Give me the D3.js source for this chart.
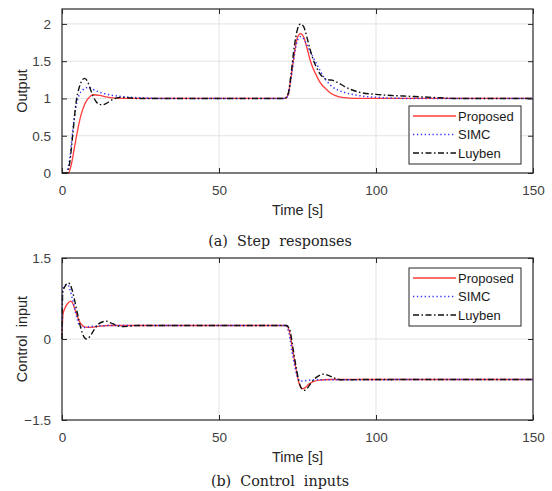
<!DOCTYPE html>
<html>
<head>
<meta charset="utf-8">
<script src="https://cdn.jsdelivr.net/npm/d3@7"></script>
<style>
  body { margin: 0; background: #fff; }
  .tick text { font-family: "Liberation Sans", Arial, sans-serif; font-size: 13.5px; fill: #404040; }
  .axisLabel { font-family: "Liberation Sans", Arial, sans-serif; font-size: 14.5px; fill: #262626; }
  .caption { font-family: "DejaVu Serif", "Liberation Serif", serif; font-size: 14.3px; fill: #222; }
  .legendText { font-family: "Liberation Sans", Arial, sans-serif; font-size: 13px; fill: #1a1a1a; }
</style>
</head>
<body>
<svg width="552" height="491"></svg>
<script>
// series names and legend
var seriesNames = ["Proposed", "SIMC", "Luyben"];

// (a) step responses: [time, output]
var outProposed = [[0,0],[2,0],[3,0.12],[4,0.35],[5,0.58],[6,0.77],[7,0.9],[8,0.98],[9,1.03],[10,1.05],[12,1.04],[14,1.02],[17,1.005],[22,1.0],
  [71,1.0],[72,1.05],[73,1.3],[74,1.6],[75,1.82],[76,1.87],[77,1.82],[78,1.68],[79,1.52],[80,1.4],[81,1.31],[82,1.23],[83,1.17],[84,1.13],[85,1.09],[86,1.06],[88,1.025],[90,1.01],[93,1.0],[150,1.0]];
var outSIMC = [[0,0],[1.3,0],[2.5,0.2],[3.5,0.6],[4.5,0.9],[5.5,1.05],[6.5,1.11],[7.5,1.14],[8.5,1.15],[9.5,1.13],[11,1.1],[13,1.07],[15,1.05],[18,1.03],[22,1.015],[27,1.005],[32,1.0],
  [71,1.0],[72,1.04],[73,1.28],[74,1.58],[75,1.78],[76,1.83],[77,1.8],[78,1.72],[79,1.63],[80,1.55],[81,1.47],[82,1.39],[83,1.31],[84,1.25],[85,1.2],[86,1.16],[88,1.11],[90,1.08],[93,1.05],[96,1.03],[100,1.015],[105,1.005],[110,1.0],[150,1.0]];
var outLuyben = [[0,0],[1.5,0],[2.5,0.15],[3.5,0.55],[4.5,0.95],[5.5,1.15],[6.5,1.25],[7.2,1.27],[8,1.24],[9,1.13],[10,1.02],[11,0.95],[12,0.92],[13,0.915],[14,0.93],[15.5,0.97],[17,1.0],[19,1.015],[21,1.01],[24,1.0],
  [71,1.0],[72,1.06],[73,1.35],[74,1.7],[75,1.93],[76,2.0],[77,1.96],[78,1.82],[79,1.66],[80,1.52],[81,1.42],[82,1.34],[83,1.29],[84,1.26],[85,1.25],[86,1.245],[87,1.23],[88,1.21],[90,1.16],[92,1.12],[95,1.08],[100,1.055],[105,1.04],[110,1.03],[115,1.02],[120,1.01],[125,1.0],[150,1.0]];

// (b) control inputs: [time, u]
var uProposed = [[0,0],[0.3,0.45],[1,0.58],[2,0.67],[2.8,0.7],[3.5,0.65],[4.5,0.48],[5.5,0.33],[6.5,0.25],[7.5,0.22],[8.5,0.215],[10,0.22],[12,0.24],[15,0.25],
  [71.5,0.25],[72.5,0.12],[73.5,-0.22],[74.5,-0.55],[75.5,-0.82],[76.5,-0.92],[77.5,-0.9],[78.5,-0.84],[80,-0.79],[82,-0.76],[85,-0.75],[150,-0.75]];
var uSIMC = [[0,0],[0.2,0.9],[1,1.0],[1.8,1.01],[2.5,0.92],[3.5,0.7],[4.5,0.45],[5.5,0.26],[6.5,0.21],[8,0.22],[10,0.235],[13,0.245],[16,0.25],
  [71.3,0.25],[72.3,0.1],[73.3,-0.25],[74.3,-0.55],[75.3,-0.75],[76,-0.78],[77,-0.775],[79,-0.76],[82,-0.755],[150,-0.75]];
var uLuyben = [[0,0],[0.2,0.85],[1,0.98],[2,1.04],[3,0.95],[4,0.72],[5,0.45],[6,0.2],[7,0.04],[7.8,0.0],[8.8,0.04],[10,0.15],[11.5,0.27],[13,0.32],[14.2,0.33],[15.5,0.3],[17,0.26],[19,0.23],[21,0.235],[24,0.25],
  [71.5,0.25],[72.5,0.18],[73.5,-0.15],[74.5,-0.5],[75.5,-0.8],[76.5,-0.93],[77.3,-0.95],[78.3,-0.9],[79.5,-0.8],[81,-0.71],[82.5,-0.66],[83.5,-0.65],[85,-0.68],[87,-0.73],[89,-0.755],[92,-0.755],[95,-0.75],[150,-0.75]];

// tick values
var xTicks = [0, 50, 100, 150];
var yTicksOut = [0, 0.5, 1, 1.5, 2];
var yTicksU = [-1.5, 0, 1.5];

var styles = [
  {color: "#ff3b3b", dash: null, width: 1.3},
  {color: "#3232ff", dash: "1.3,2.6", width: 1.5},
  {color: "#111111", dash: "6,2.5,1.5,2.5", width: 1.4}
];

var svg = d3.select("svg");

function drawPanel(cfg) {
  var left = 62, right = 533;
  var x = d3.scaleLinear().domain([0, 150]).range([left, right]);
  var y = d3.scaleLinear().domain(cfg.yDomain).range([cfg.bottom, cfg.top]);
  var g = svg.append("g");

  //grid
  g.selectAll(".gx").data(cfg.gridX).enter().append("line")
    .attr("x1", function(d){ return x(d); }).attr("x2", function(d){ return x(d); })
    .attr("y1", cfg.top).attr("y2", cfg.bottom)
    .attr("stroke", "#e3e3e3").attr("stroke-width", 1);
  g.selectAll(".gy").data(cfg.gridY).enter().append("line")
    .attr("x1", left).attr("x2", right)
    .attr("y1", function(d){ return y(d); }).attr("y2", function(d){ return y(d); })
    .attr("stroke", "#e3e3e3").attr("stroke-width", 1);

  //lines
  var line = d3.line()
    .x(function(d){ return x(d[0]); })
    .y(function(d){ return y(d[1]); })
    .curve(d3.curveMonotoneX);
  cfg.series.forEach(function(s, i) {
    g.append("path")
      .datum(s)
      .attr("d", line)
      .attr("fill", "none")
      .attr("stroke", styles[i].color)
      .attr("stroke-width", styles[i].width)
      .attr("stroke-dasharray", styles[i].dash);
  });

  //axes, matlab style with ticks inside on all sides
  var fmt = function(d){ return d3.format("")(d); };
  g.append("g").attr("transform", "translate(0," + cfg.bottom + ")")
    .call(d3.axisBottom(x).tickValues(xTicks).tickSize(-5).tickPadding(12).tickFormat(fmt))
    .call(function(a){ a.select(".domain").remove(); a.selectAll("line").attr("stroke", "#262626"); });
  g.append("g").attr("transform", "translate(0," + cfg.top + ")")
    .call(d3.axisTop(x).tickValues(xTicks).tickSize(-5).tickFormat(""))
    .call(function(a){ a.select(".domain").remove(); a.selectAll("line").attr("stroke", "#262626"); });
  g.append("g").attr("transform", "translate(" + left + ",0)")
    .call(d3.axisLeft(y).tickValues(cfg.yTicks).tickSize(-5).tickPadding(11).tickFormat(fmt))
    .call(function(a){ a.select(".domain").remove(); a.selectAll("line").attr("stroke", "#262626"); });
  g.append("g").attr("transform", "translate(" + right + ",0)")
    .call(d3.axisRight(y).tickValues(cfg.yTicks).tickSize(-5).tickFormat(""))
    .call(function(a){ a.select(".domain").remove(); a.selectAll("line").attr("stroke", "#262626"); });
  g.selectAll(".tick text").attr("fill", null);

  g.append("rect")
    .attr("x", left).attr("y", cfg.top)
    .attr("width", right - left).attr("height", cfg.bottom - cfg.top)
    .attr("fill", "none").attr("stroke", "#262626").attr("stroke-width", 1.2);

  //labels
  g.append("text").attr("class", "axisLabel")
    .attr("x", (left + right) / 2).attr("y", cfg.bottom + 42)
    .attr("text-anchor", "middle").text("Time [s]");
  g.append("text").attr("class", "axisLabel")
    .attr("transform", "translate(27," + ((cfg.top + cfg.bottom) / 2) + ") rotate(-90)")
    .attr("text-anchor", "middle")
    .style("white-space", "pre").text(cfg.yLabel);
  g.append("text").attr("class", "caption")
    .attr("x", 280).attr("y", cfg.captionY)
    .attr("text-anchor", "middle").style("white-space", "pre")
    .text(cfg.caption);

  //legend
  var lg = g.append("g").attr("transform", "translate(409," + cfg.legendTop + ")");
  lg.append("rect").attr("width", 112).attr("height", 58)
    .attr("fill", "#fff").attr("stroke", "#262626").attr("stroke-width", 1);
  seriesNames.forEach(function(name, i) {
    var ry = 10 + i * 18.5;
    lg.append("line")
      .attr("x1", 4).attr("x2", 47).attr("y1", ry).attr("y2", ry)
      .attr("stroke", styles[i].color).attr("stroke-width", styles[i].width)
      .attr("stroke-dasharray", styles[i].dash);
    lg.append("text").attr("class", "legendText")
      .attr("x", 49).attr("y", ry + 4.5).text(name);
  });
}

drawPanel({
  top: 9, bottom: 173, yDomain: [0, 2.2], yTicks: yTicksOut,
  gridX: [50, 100], gridY: [0.5, 1, 1.5, 2],
  series: [outProposed, outSIMC, outLuyben],
  yLabel: "Output", caption: "(a)  Step  responses", captionY: 246, legendTop: 106
});

drawPanel({
  top: 258, bottom: 420, yDomain: [-1.5, 1.5], yTicks: yTicksU,
  gridX: [50, 100], gridY: [0],
  series: [uProposed, uSIMC, uLuyben],
  yLabel: "Control  input", caption: "(b)  Control  inputs", captionY: 486, legendTop: 268
});
</script>
</body>
</html>
